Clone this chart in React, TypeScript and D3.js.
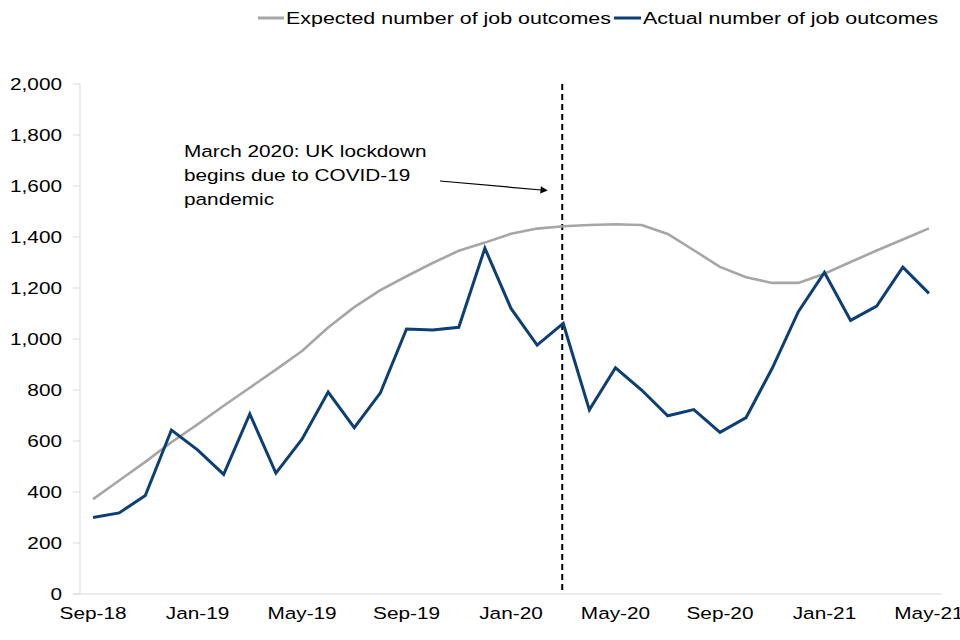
import React from "react";
import * as d3 from "d3";

const months = [
  "Sep-18","Oct-18","Nov-18","Dec-18","Jan-19","Feb-19","Mar-19","Apr-19","May-19","Jun-19","Jul-19","Aug-19",
  "Sep-19","Oct-19","Nov-19","Dec-19","Jan-20","Feb-20","Mar-20","Apr-20","May-20","Jun-20","Jul-20","Aug-20",
  "Sep-20","Oct-20","Nov-20","Dec-20","Jan-21","Feb-21","Mar-21","Apr-21","May-21",
];
const expected = [
  372, 445, 518, 595, 665, 738, 809, 880, 953, 1045, 1125, 1192,
  1246, 1298, 1346, 1378, 1413, 1433, 1442, 1447, 1450, 1447, 1412, 1348,
  1283, 1242, 1220, 1220, 1256, 1302, 1347, 1390, 1434,
];
const actual = [
  300, 318, 386, 643, 565, 469, 706, 474, 607, 792, 652, 789,
  1039, 1035, 1046, 1356, 1120, 976, 1061, 722, 887, 800, 699, 723,
  634, 692, 885, 1107, 1261, 1073, 1129, 1282, 1179,
];
const yTicks = [0, 200, 400, 600, 800, 1000, 1200, 1400, 1600, 1800, 2000];
const xLabels = ["Sep-18","Jan-19","May-19","Sep-19","Jan-20","May-20","Sep-20","Jan-21","May-21"];
const lockdownMonth = "Mar-20";
const annotation = ["March 2020: UK lockdown", "begins due to COVID-19", "pandemic"];
const seriesNames = ["Expected number of job outcomes", "Actual number of job outcomes"];

const GRAY = "#a6a6a6";
const BLUE = "#0d3f74";
const FONT = "'Liberation Sans', Arial, sans-serif";
const SX = 1.26;

function T({ x, y, anchor = "start", size = 16.5, children }: any) {
  return (
    <text
      transform={`translate(${x},${y}) scale(${SX},1)`}
      textAnchor={anchor}
      fontFamily={FONT}
      fontSize={size}
      fill="#000"
    >
      {children}
    </text>
  );
}

export default function App() {
  const left = 80, right = 942, top = 84, bottom = 594;
  const x = d3.scaleBand<string>().domain(months).range([left, right]);
  const cx = (m: string) => (x(m) as number) + x.bandwidth() / 2;
  const y = d3.scaleLinear().domain([0, 2000]).range([bottom, top]);
  const line = d3
    .line<number>()
    .x((_, i) => cx(months[i]))
    .y((d) => y(d));
  const lx = cx(lockdownMonth) - 1;

  return (
    <svg
      width={960}
      height={640}
      style={{ position: "absolute", left: 0, top: 0, background: "#fff" }}
    >
      <defs>
        <marker id="arr" viewBox="0 0 10 10" refX="9" refY="5" markerWidth="7" markerHeight="6" orient="auto">
          <path d="M0,0 L10,5 L0,10 z" fill="#000" />
        </marker>
      </defs>
      {/* legend */}
      <line x1={258} x2={284} y1={18} y2={18} stroke={GRAY} strokeWidth={3} />
      <T x={286} y={24} size={17}>{seriesNames[0]}</T>
      <line x1={614} x2={641} y1={18} y2={18} stroke={BLUE} strokeWidth={3} />
      <T x={643} y={24} size={17}>{seriesNames[1]}</T>

      {/* axes */}
      <line x1={left} x2={left} y1={top} y2={bottom} stroke="#d9d9d9" strokeWidth={1} />
      <line x1={73} x2={right} y1={bottom} y2={bottom} stroke="#d9d9d9" strokeWidth={1} />
      {yTicks.map((t) => (
        <g key={t}>
          <line x1={73} x2={left} y1={y(t)} y2={y(t)} stroke="#d9d9d9" strokeWidth={1} />
          <T x={62} y={y(t) + 6} anchor="end">{d3.format(",")(t)}</T>
        </g>
      ))}
      {xLabels.map((m) => (
        <T key={m} x={cx(m)} y={619} anchor="middle">{m}</T>
      ))}

      {/* lockdown line */}
      <line x1={lx} x2={lx} y1={top} y2={bottom} stroke="#000" strokeWidth={2} strokeDasharray="6,4" />

      {/* series */}
      <path d={line(expected) || ""} fill="none" stroke={GRAY} strokeWidth={2.6} strokeLinejoin="round" />
      <path d={line(actual) || ""} fill="none" stroke={BLUE} strokeWidth={3} strokeLinejoin="miter" />

      {/* annotation */}
      {annotation.map((s, i) => (
        <T key={i} x={184} y={157 + i * 24}>{s}</T>
      ))}
      <line x1={440} y1={181} x2={547} y2={190.5} stroke="#000" strokeWidth={1.2} markerEnd="url(#arr)" />
    </svg>
  );
}
